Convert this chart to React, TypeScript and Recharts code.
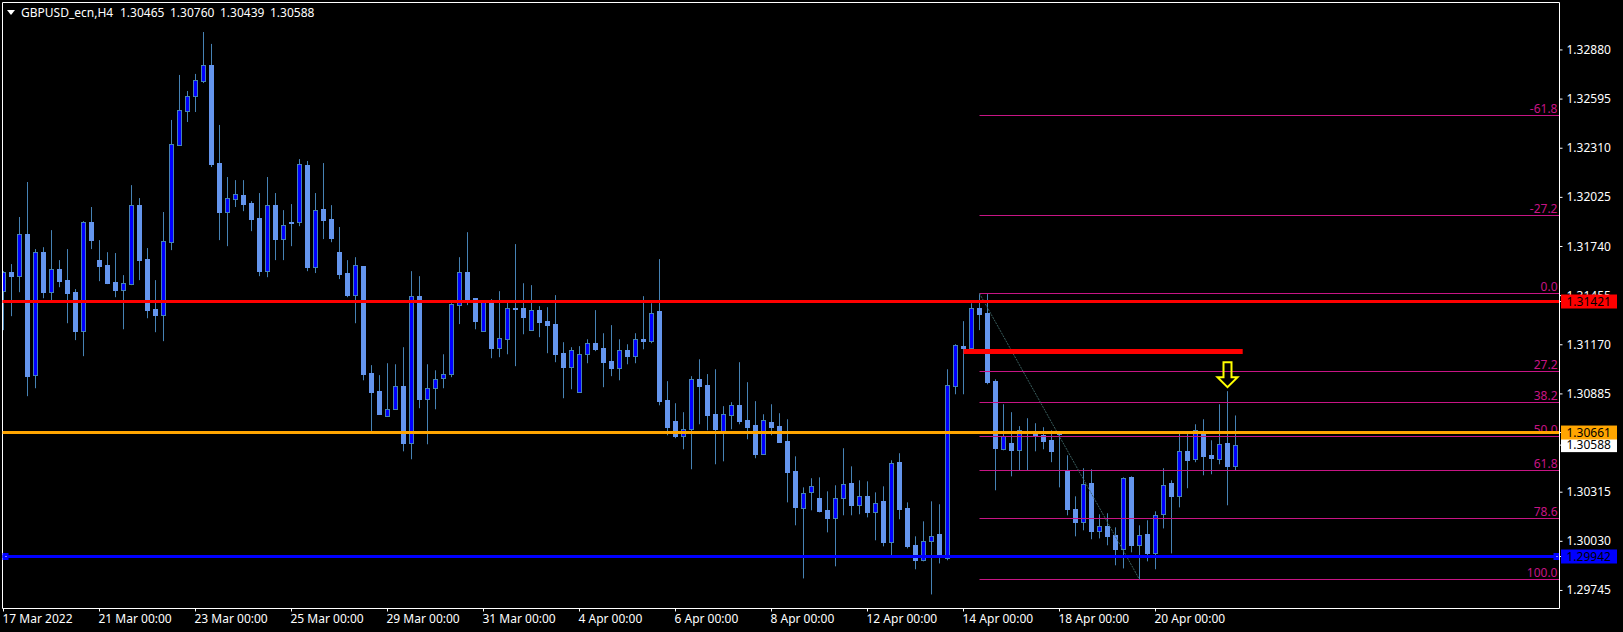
import React from 'react';
import {
  ComposedChart,
  Bar,
  XAxis,
  YAxis,
  ReferenceLine,
  ReferenceDot,
} from 'recharts';

const opens = [
  1.31483, 1.31591, 1.3157, 1.31812, 1.30995, 1.31707, 1.31477, 1.31607, 1.31545, 1.31475,
  1.31251, 1.31882, 1.31661, 1.31632, 1.31533, 1.31489, 1.31522, 1.3198, 1.31667, 1.31377,
  1.31342, 1.31767, 1.3233, 1.32527, 1.32615, 1.32702, 1.32791, 1.32222, 1.3194, 1.32017,
  1.32038, 1.31992, 1.31905, 1.31597, 1.3198, 1.31785, 1.31884, 1.31883, 1.32212, 1.3162,
  1.31955, 1.31899, 1.31707, 1.31586, 1.31458, 1.31626, 1.31005, 1.30901, 1.30757, 1.30798,
  1.3093, 1.30601, 1.31452, 1.30854, 1.3092, 1.30978, 1.31001, 1.31402, 1.31591, 1.3144,
  1.31251, 1.31429, 1.31152, 1.31204, 1.31386, 1.31382, 1.31256, 1.31371, 1.31307, 1.3129,
  1.31121, 1.31042, 1.30897, 1.31117, 1.31179, 1.3115, 1.31075, 1.31036, 1.31139, 1.31106,
  1.31202, 1.31193, 1.31365, 1.30848, 1.30727, 1.30641, 1.30682, 1.3097, 1.30935, 1.30767,
  1.30663, 1.30765, 1.3082, 1.30732, 1.30703, 1.30537, 1.30721, 1.30698, 1.3061, 1.30436,
  1.30223, 1.30316, 1.3028, 1.3021, 1.30165, 1.30281, 1.30367, 1.30241, 1.30291, 1.302,
  1.30262, 1.30026, 1.30489, 1.30222, 1.30007, 1.29922, 1.30032, 1.30071, 1.29931, 1.30931,
  1.31162, 1.31152, 1.31382, 1.31353, 1.30959, 1.30564, 1.30599, 1.3056, 1.30668, 1.30657,
  1.30645, 1.30616, 1.3066, 1.30436, 1.30216, 1.30142, 1.30367, 1.3009, 1.30117, 1.30065,
  1.29985, 1.30401, 1.30009, 1.30071, 1.2996, 1.30188, 1.30367, 1.30293, 1.30552, 1.30508,
  1.30657, 1.30529, 1.30508, 1.30599, 1.30465,
];

const highs = [
  1.31597, 1.31638, 1.31911, 1.32114, 1.31725, 1.31736, 1.31835, 1.31661, 1.31725, 1.31493,
  1.31887, 1.31969, 1.31777, 1.31707, 1.31702, 1.31574, 1.32096, 1.32021, 1.31731, 1.31545,
  1.3194, 1.32474, 1.32735, 1.32642, 1.32741, 1.32984, 1.32915, 1.32445, 1.32143, 1.32125,
  1.32125, 1.32003, 1.3205, 1.32143, 1.3205, 1.31951, 1.31986, 1.32247, 1.32236, 1.3205,
  1.32224, 1.3198, 1.31853, 1.31661, 1.31678, 1.31626, 1.31052, 1.30994, 1.31063, 1.31057,
  1.31156, 1.31597, 1.31568, 1.31057, 1.31022, 1.31115, 1.31411, 1.31678, 1.31823, 1.3144,
  1.31429, 1.31435, 1.31481, 1.31429, 1.31754, 1.31527, 1.31516, 1.31394, 1.31388, 1.31458,
  1.31185, 1.31156, 1.31162, 1.31202, 1.31371, 1.31237, 1.31284, 1.31202, 1.31173, 1.31237,
  1.31452, 1.31411, 1.31667, 1.30959, 1.30831, 1.30779, 1.30988, 1.31086, 1.31, 1.31028,
  1.30814, 1.30837, 1.31069, 1.30953, 1.30843, 1.30767, 1.30825, 1.30773, 1.30738, 1.30523,
  1.30343, 1.30396, 1.30401, 1.3032, 1.30355, 1.3057, 1.30465, 1.30384, 1.30378, 1.30314,
  1.30349, 1.305, 1.30541, 1.30256, 1.30059, 1.30146, 1.30262, 1.30245, 1.31028, 1.31173,
  1.31307, 1.31411, 1.31468, 1.31464, 1.3097, 1.30825, 1.30779, 1.30698, 1.30744, 1.30715,
  1.30692, 1.30674, 1.30663, 1.30529, 1.30291, 1.30454, 1.30448, 1.30187, 1.30193, 1.30111,
  1.30401, 1.30407, 1.30123, 1.30152, 1.30204, 1.30454, 1.30384, 1.30663, 1.30663, 1.30709,
  1.30738, 1.30616, 1.30825, 1.30901, 1.3076,
];

const lows = [
  1.31255, 1.31336, 1.31475, 1.30872, 1.30918, 1.3144, 1.31429, 1.31504, 1.31295, 1.31197,
  1.31104, 1.31725, 1.31539, 1.31522, 1.31446, 1.3126, 1.31516, 1.31545, 1.31324, 1.31243,
  1.31191, 1.31719, 1.32328, 1.32462, 1.3252, 1.32688, 1.32201, 1.31777, 1.31742, 1.31969,
  1.31945, 1.31829, 1.31568, 1.31562, 1.31661, 1.31661, 1.31742, 1.31858, 1.31597, 1.31586,
  1.31783, 1.31765, 1.31551, 1.31446, 1.31295, 1.30964, 1.30663, 1.30767, 1.30756, 1.30796,
  1.30552, 1.30506, 1.30802, 1.30593, 1.30796, 1.30918, 1.30982, 1.3129, 1.314, 1.3126,
  1.31249, 1.31092, 1.31098, 1.31115, 1.31046, 1.31231, 1.31255, 1.31214, 1.31121, 1.31069,
  1.3086, 1.30912, 1.30895, 1.31063, 1.31133, 1.30924, 1.30988, 1.30964, 1.31057, 1.31063,
  1.31144, 1.31179, 1.30819, 1.30645, 1.30628, 1.30564, 1.30448, 1.30709, 1.30674, 1.30477,
  1.30494, 1.3068, 1.30709, 1.30622, 1.30512, 1.30535, 1.30645, 1.30605, 1.30256, 1.30123,
  1.29815, 1.3021, 1.30198, 1.30082, 1.29885, 1.30181, 1.30181, 1.30187, 1.30169, 1.30036,
  1.30001, 1.29949, 1.30158, 1.29989, 1.29868, 1.29914, 1.29722, 1.29902, 1.2992, 1.30883,
  1.30883, 1.31127, 1.31255, 1.30941, 1.30326, 1.30558, 1.30407, 1.30442, 1.30442, 1.30552,
  1.30564, 1.30489, 1.30343, 1.30181, 1.30059, 1.30094, 1.30042, 1.30047, 1.30007, 1.29891,
  1.29873, 1.29966, 1.2981, 1.29914, 1.29868, 1.30105, 1.2996, 1.30227, 1.30338, 1.30489,
  1.30413, 1.30419, 1.30477, 1.30239, 1.30439,
];

const closes = [
  1.3159, 1.31568, 1.3181, 1.30988, 1.31706, 1.31475, 1.31607, 1.31539, 1.31469, 1.31249,
  1.3188, 1.31777, 1.31626, 1.31527, 1.31487, 1.31526, 1.3198, 1.31661, 1.31371, 1.31342,
  1.31771, 1.32332, 1.3253, 1.32611, 1.32704, 1.32791, 1.32218, 1.3194, 1.32019, 1.32042,
  1.31986, 1.31899, 1.31597, 1.31978, 1.31783, 1.31862, 1.31879, 1.32216, 1.3162, 1.31949,
  1.31893, 1.31789, 1.3158, 1.31458, 1.3163, 1.31, 1.30895, 1.30767, 1.308, 1.30928,
  1.30599, 1.3145, 1.30854, 1.30922, 1.30974, 1.31003, 1.31404, 1.3159, 1.31435, 1.31307,
  1.31423, 1.3115, 1.31207, 1.31386, 1.31378, 1.3133, 1.31369, 1.31301, 1.31284, 1.31115,
  1.3104, 1.31137, 1.31119, 1.31178, 1.31144, 1.31069, 1.31034, 1.31137, 1.31104, 1.31201,
  1.31191, 1.31357, 1.30843, 1.30692, 1.30639, 1.30684, 1.30969, 1.3093, 1.30761, 1.3068,
  1.30767, 1.30818, 1.30727, 1.30692, 1.30535, 1.30731, 1.30692, 1.30605, 1.30431, 1.30227,
  1.30313, 1.30353, 1.30204, 1.30164, 1.30284, 1.30365, 1.30239, 1.3029, 1.30198, 1.30255,
  1.30024, 1.30487, 1.30216, 1.30001, 1.2992, 1.30034, 1.30063, 1.29949, 1.30934, 1.31166,
  1.31152, 1.31381, 1.31348, 1.30953, 1.3057, 1.30639, 1.30558, 1.30674, 1.30657, 1.30639,
  1.3061, 1.30552, 1.30651, 1.30216, 1.3014, 1.30365, 1.30088, 1.30121, 1.30059, 1.29984,
  1.304, 1.30007, 1.30069, 1.2996, 1.30185, 1.30359, 1.30291, 1.30551, 1.305, 1.30673,
  1.30523, 1.30512, 1.30597, 1.30465, 1.30588,
];

const priceTicks = [
  1.3288, 1.32595, 1.3231, 1.32025, 1.3174, 1.31455, 1.3117, 1.30885, 1.30315, 1.3003, 1.29745,
];
const timeTicks = [0, 12, 24, 36, 48, 60, 72, 84, 96, 108, 120, 132, 144];
const timeLabels = [
  '17 Mar 2022',
  '21 Mar 00:00',
  '23 Mar 00:00',
  '25 Mar 00:00',
  '29 Mar 00:00',
  '31 Mar 00:00',
  '4 Apr 00:00',
  '6 Apr 00:00',
  '8 Apr 00:00',
  '12 Apr 00:00',
  '14 Apr 00:00',
  '18 Apr 00:00',
  '20 Apr 00:00',
];

const fibNames = ['-61.8', '-27.2', '0.0', '27.2', '38.2', '50.0', '61.8', '78.6', '100.0'];
const fibPrices = [1.324998, 1.319198, 1.314674, 1.31015, 1.308352, 1.30638, 1.304408, 1.301624, 1.298086];

const titleName = 'GBPUSD_ecn,H4';
const titleOhlc = ['1.30465', '1.30760', '1.30439', '1.30588'];

const resistance = 1.31421;
const midLevel = 1.30661;
const support = 1.29942;
const lastPrice = 1.30588;
const shortLevel = 1.31131;
const arrowPrice = 1.30924;

// tags go last so they paint over the plain tick labels
const tagPrices = [lastPrice, resistance, midLevel, support];
const tagColors = ['#FFFFFF', '#FF0000', '#FFA500', '#0000FF'];

const X_MIN = -0.125;
const X_MAX = 194.5;
const Y_MIN = 1.296404;
const Y_MAX = 1.331552;
const FONT = '"Noto Sans", sans-serif';

const candles = opens.map((open, i) => ({
  idx: i,
  open,
  high: highs[i],
  low: lows[i],
  close: closes[i],
}));

const Candle = (props: any) => {
  const { x, y, width, height, payload } = props;
  const cx = x + width / 2;
  const range = payload.high - payload.low;
  const toY = (p: number) => y + ((payload.high - p) / range) * height;
  const top = Math.round(toY(Math.max(payload.open, payload.close)));
  const bottom = Math.round(toY(Math.min(payload.open, payload.close)));
  const bull = payload.close >= payload.open;
  const bodyH = Math.max(bottom - top, 1);
  return (
    <g>
      <rect x={cx - 0.5} y={y} width={1} height={height} fill="#4682B4" />
      <rect x={cx - 2.5} y={top} width={5} height={bodyH + 1} fill={bull ? '#4682B4' : '#6495ED'} />
      {bull && bodyH > 1 && <rect x={cx - 1.5} y={top + 1} width={3} height={bodyH - 1} fill="#0000FF" />}
    </g>
  );
};

const TimeTick = (props: any) => {
  const { x, y, payload } = props;
  return (
    <text x={x - 1} y={y + 11} fill="#fff" fontSize={12} fontFamily={FONT} textAnchor="start">
      {timeLabels[timeTicks.indexOf(payload.value)]}
    </text>
  );
};

const PriceTick = (props: any) => {
  const { x, y, payload } = props;
  const tag = tagPrices.indexOf(payload.value);
  const label = payload.value.toFixed(5);
  if (tag < 0) {
    return (
      <text x={x} y={y + 4} fill="#fff" fontSize={12} fontFamily={FONT}>
        {label}
      </text>
    );
  }
  return (
    <g>
      <rect x={x - 5.5} y={y - 7} width={56} height={14} fill={tagColors[tag]} />
      <text x={x} y={y + 4} fill="#000" fontSize={12} fontFamily={FONT}>
        {label}
      </text>
    </g>
  );
};

const LineAnchors = (props: any) => {
  const { viewBox } = props;
  const right = viewBox.x + viewBox.width;
  return (
    <g>
      <rect x={viewBox.x} y={viewBox.y - 3.5} width={6} height={7} fill="#0000FF" />
      <rect x={viewBox.x + 3} y={viewBox.y - 0.5} width={1} height={1} fill="#fff" />
      <rect x={right - 6} y={viewBox.y - 3.5} width={6} height={7} fill="#0000FF" />
      <rect x={right - 3} y={viewBox.y - 0.5} width={1} height={1} fill="#fff" />
    </g>
  );
};

const FibLabel = (props: any) => {
  const { viewBox, text } = props;
  return (
    <text
      x={viewBox.x + viewBox.width - 2}
      y={viewBox.y - 3}
      fill="#C71585"
      fontSize={12}
      fontFamily={FONT}
      textAnchor="end"
    >
      {text}
    </text>
  );
};

const DownArrow = (props: any) => {
  const { cx, cy } = props;
  const pts = [
    [cx - 4, cy - 25],
    [cx + 4, cy - 25],
    [cx + 4, cy - 10],
    [cx + 10, cy - 10],
    [cx, cy],
    [cx - 10, cy - 10],
    [cx - 4, cy - 10],
  ];
  return <polygon points={pts.map((p) => p.join(',')).join(' ')} fill="none" stroke="#FFFF00" strokeWidth={2} />;
};

export default function App() {
  return (
    <div style={{ position: 'absolute', left: 0, top: 0, width: 1623, height: 632, background: '#000' }}>
      <ComposedChart
        width={1623}
        height={632}
        data={candles}
        margin={{ top: 2.5, right: 0, bottom: 0, left: 2.5 }}
      >
        <XAxis
          type="number"
          dataKey="idx"
          domain={[X_MIN, X_MAX]}
          allowDataOverflow
          ticks={timeTicks}
          interval={0}
          height={23.5}
          tickSize={3}
          tickMargin={0}
          axisLine={{ stroke: '#fff' }}
          tickLine={{ stroke: '#fff' }}
          tick={<TimeTick />}
        />
        <YAxis
          orientation="right"
          domain={[Y_MIN, Y_MAX]}
          allowDataOverflow
          ticks={[...priceTicks, ...tagPrices]}
          interval={0}
          width={63.5}
          tickSize={3}
          tickMargin={4}
          axisLine={{ stroke: '#fff' }}
          tickLine={{ stroke: '#fff' }}
          tick={<PriceTick />}
        />
        <Bar
          dataKey={(d: any) => [d.low, d.high]}
          barSize={6}
          shape={<Candle />}
          isAnimationActive={false}
        />
        <ReferenceLine x={X_MIN} stroke="#fff" />
        <ReferenceLine y={Y_MAX} stroke="#fff" />
        {fibPrices.map((p, i) => (
          <ReferenceLine
            key={fibNames[i]}
            segment={[
              { x: 122, y: p },
              { x: X_MAX, y: p },
            ]}
            stroke="#C71585"
            label={<FibLabel text={fibNames[i]} />}
          />
        ))}
        <ReferenceLine
          segment={[
            { x: 122, y: fibPrices[2] },
            { x: 142, y: fibPrices[8] },
          ]}
          stroke="#3A5F5F"
          strokeDasharray="2 1"
        />
        <ReferenceLine y={resistance} stroke="#FF0000" strokeWidth={3} />
        <ReferenceLine y={midLevel} stroke="#FFA500" strokeWidth={3} />
        <ReferenceLine y={support} stroke="#0000FF" strokeWidth={3} label={<LineAnchors />} />
        <ReferenceLine
          segment={[
            { x: 120, y: shortLevel },
            { x: 154.9, y: shortLevel },
          ]}
          stroke="#FF0000"
          strokeWidth={5}
        />
        <ReferenceDot x={153} y={arrowPrice} shape={<DownArrow />} />
        <polygon points="7,10 15,10 11,15" fill="#fff" />
        <text x={21} y={17} fill="#fff" fontSize={12} fontFamily={FONT}>
          {titleName}
        </text>
        {titleOhlc.map((v, i) => (
          <text key={i} x={120 + i * 50} y={17} fill="#fff" fontSize={12} fontFamily={FONT}>
            {v}
          </text>
        ))}
      </ComposedChart>
    </div>
  );
}
